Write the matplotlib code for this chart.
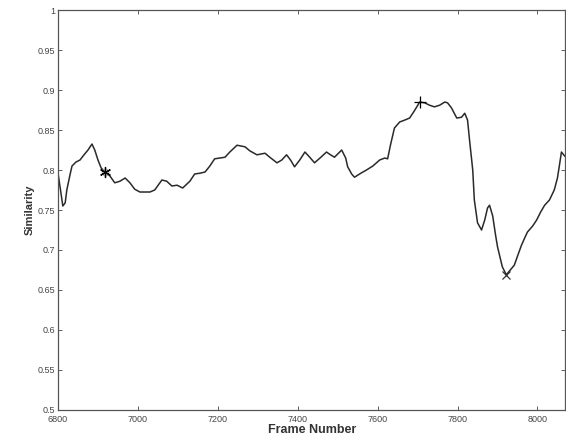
import matplotlib
matplotlib.use('Agg')
import matplotlib.pyplot as plt

plt.rcParams['font.family'] = ['Liberation Sans', 'DejaVu Sans']

# similarity curve
frames = [6800, 6808, 6812, 6818, 6822, 6830, 6835, 6845, 6855, 6865, 6875, 6885,
          6892, 6900, 6908, 6918, 6930, 6942, 6955, 6968, 6980, 6992, 7005, 7030,
          7042, 7060, 7072, 7085, 7098, 7112, 7130, 7142, 7155, 7168, 7180, 7192,
          7205, 7218, 7230, 7248, 7268, 7280, 7298, 7318, 7330, 7348, 7360, 7372,
          7382, 7392, 7405, 7418, 7430, 7442, 7458, 7472, 7482, 7492, 7510, 7520,
          7525, 7535, 7542, 7558, 7572, 7588, 7605, 7618, 7625, 7632, 7642, 7655,
          7668, 7680, 7690, 7698, 7705, 7718, 7730, 7742, 7755, 7768, 7775, 7785,
          7798, 7810, 7818, 7825, 7830, 7838, 7842, 7850, 7860, 7868, 7875, 7880,
          7888, 7895, 7900, 7912, 7922, 7932, 7942, 7952, 7960, 7968, 7975, 7988,
          7998, 8008, 8018, 8030, 8042, 8050, 8055, 8060, 8068]
similarity = [0.796, 0.769, 0.755, 0.759, 0.775, 0.794, 0.805, 0.810, 0.8125, 0.819,
              0.825, 0.8325, 0.825, 0.8125, 0.8025, 0.7975, 0.7925, 0.784, 0.786, 0.790,
              0.784, 0.776, 0.7725, 0.7725, 0.775, 0.7875, 0.786, 0.780, 0.781, 0.7775,
              0.786, 0.795, 0.796, 0.7975, 0.805, 0.814, 0.815, 0.816, 0.8225, 0.831,
              0.829, 0.824, 0.819, 0.821, 0.816, 0.809, 0.8125, 0.819, 0.8125, 0.804,
              0.8125, 0.8225, 0.816, 0.809, 0.816, 0.8225, 0.819, 0.816, 0.825, 0.815,
              0.804, 0.795, 0.791, 0.796, 0.800, 0.805, 0.8125, 0.815, 0.814, 0.831,
              0.8525, 0.860, 0.8625, 0.865, 0.8725, 0.879, 0.885, 0.884, 0.881, 0.879,
              0.881, 0.885, 0.884, 0.8775, 0.865, 0.866, 0.871, 0.8625, 0.8375, 0.800,
              0.7625, 0.734, 0.725, 0.7375, 0.7525, 0.756, 0.7425, 0.719, 0.704, 0.679,
              0.669, 0.675, 0.681, 0.695, 0.706, 0.715, 0.7225, 0.730, 0.7375, 0.7475,
              0.756, 0.7625, 0.775, 0.790, 0.806, 0.8225, 0.8175]

star_pt = (6918, 0.7975)
plus_pt = (7705, 0.885)
cross_pt = (7922, 0.669)

x_ticks = [6800, 7000, 7200, 7400, 7600, 7800, 8000]
y_ticks = [0.5, 0.55, 0.6, 0.65, 0.7, 0.75, 0.8, 0.85, 0.9, 0.95, 1.0]
y_tick_labels = ['0.5', '0.55', '0.6', '0.65', '0.7', '0.75', '0.8', '0.85', '0.9', '0.95', '1']


def main():
    fig = plt.figure(figsize=(5.66, 4.48), dpi=100)
    ax = fig.add_axes([0.1025, 0.085, 0.8965, 0.8925])

    ax.plot(frames, similarity, color='#2a2a2a', linewidth=1.1)
    # marker overlays
    ax.plot(*star_pt, marker='o', color='#b0b0b0', markersize=5, alpha=0.7)
    ax.plot(*star_pt, marker=(6, 2, 0), color='black', markersize=8, markeredgewidth=0.9)
    ax.plot(*plus_pt, marker='+', color='black', markersize=9, markeredgewidth=0.9)
    ax.plot(*cross_pt, marker='x', color='#333333', markersize=6, markeredgewidth=0.9)

    ax.set_xlim(6800, 8070)
    ax.set_ylim(0.5, 1.0)
    ax.set_xticks(x_ticks)
    ax.set_yticks(y_ticks)
    ax.set_yticklabels(y_tick_labels)

    ax.tick_params(direction='in', top=True, right=True, length=3, width=0.6,
                   labelsize=6.5, colors='#444444')
    ax.tick_params(axis='x', pad=4)
    ax.tick_params(axis='y', pad=2)
    for spine in ax.spines.values():
        spine.set_color('#555555')
        spine.set_linewidth(0.9)

    ax.set_xlabel('Frame Number', fontsize=9, fontweight='bold', color='#333333', labelpad=0)
    ax.set_ylabel('Similarity', fontsize=8, fontweight='bold', color='#333333', labelpad=2)

    fig.savefig('out.png', dpi=100)


if __name__ == '__main__':
    main()
